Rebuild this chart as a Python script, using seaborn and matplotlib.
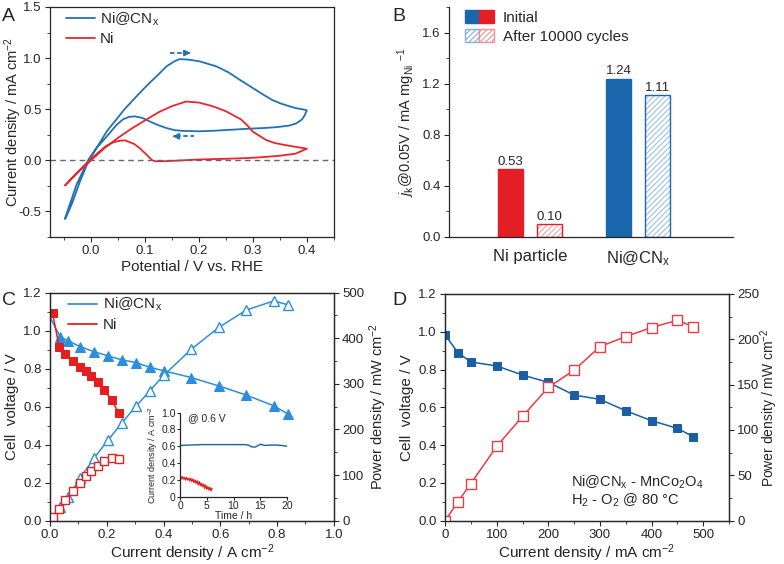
import pandas as pd
import seaborn as sns
import matplotlib.pyplot as plt
from matplotlib.patches import Patch, Rectangle
from matplotlib.lines import Line2D
from matplotlib.legend_handler import HandlerTuple
from matplotlib.ticker import MultipleLocator

# ---- panel A: CV loops (forward sweep then backward sweep)
cv_nicn_v = [-0.048, -0.035, -0.02, -0.005, 0.016, 0.03, 0.047, 0.062, 0.078, 0.094, 0.109, 0.125,
             0.14, 0.155, 0.164, 0.18, 0.2, 0.232, 0.255, 0.275, 0.29, 0.305, 0.32, 0.336, 0.352,
             0.367, 0.38, 0.391, 0.4,
             0.396, 0.391, 0.38, 0.367, 0.345, 0.324, 0.295, 0.262, 0.23, 0.2, 0.17, 0.155, 0.139,
             0.124, 0.109, 0.095, 0.081, 0.07, 0.059, 0.047, 0.035, 0.022, 0.01, -0.005, -0.027, -0.048]
cv_nicn_j = [-0.575, -0.42, -0.2, -0.01, 0.17, 0.29, 0.40, 0.50, 0.59, 0.68, 0.76, 0.84,
             0.92, 0.97, 0.99, 0.985, 0.97, 0.92, 0.86, 0.79, 0.74, 0.69, 0.64, 0.59, 0.555,
             0.53, 0.51, 0.50, 0.49,
             0.44, 0.40, 0.36, 0.34, 0.325, 0.317, 0.31, 0.30, 0.29, 0.284, 0.288, 0.295, 0.317,
             0.345, 0.38, 0.415, 0.43, 0.425, 0.40, 0.345, 0.27, 0.19, 0.12, 0.005, -0.24, -0.565]

cv_ni_v = [-0.048, -0.025, 0.0, 0.025, 0.05, 0.075, 0.1, 0.125, 0.15, 0.176, 0.2, 0.225, 0.25,
           0.278, 0.29, 0.3, 0.312, 0.324, 0.34, 0.355, 0.37, 0.385, 0.4,
           0.39, 0.379, 0.35, 0.32, 0.293, 0.25, 0.2, 0.17, 0.14, 0.121, 0.113, 0.109, 0.1, 0.09,
           0.08, 0.0625, 0.052, 0.041, 0.028, 0.016, -0.002, -0.025, -0.048]
cv_ni_j = [-0.245, -0.12, 0.0, 0.12, 0.22, 0.31, 0.39, 0.47, 0.53, 0.575, 0.565, 0.53, 0.48,
           0.40, 0.34, 0.28, 0.24, 0.20, 0.17, 0.154, 0.14, 0.127, 0.114,
           0.09, 0.065, 0.045, 0.032, 0.023, 0.015, 0.008, 0.0, -0.008, -0.01, 0.0, 0.023, 0.07,
           0.12, 0.16, 0.196, 0.19, 0.176, 0.14, 0.088, 0.006, -0.12, -0.245]

# ---- panel B: mass activity
materials = ['Ni particle', 'Ni@CNx', 'Ni particle', 'Ni@CNx']
states = ['Initial', 'Initial', 'After 10000 cycles', 'After 10000 cycles']
activity = [0.53, 1.24, 0.10, 1.11]

# ---- panel C: polarisation / power curves
c_nicn_i = [0.0, 0.036, 0.065, 0.106, 0.156, 0.205, 0.254, 0.303, 0.352, 0.401,
            0.498, 0.595, 0.692, 0.789, 0.840]
c_nicn_v = [1.07, 0.968, 0.946, 0.916, 0.889, 0.867, 0.846, 0.832, 0.807, 0.789,
            0.753, 0.709, 0.661, 0.604, 0.560]
c_nicn_p = [0, 30, 53, 93, 138, 177, 215, 251, 285, 319, 376, 424, 462, 482, 473]

c_ni_i = [0.009, 0.032, 0.053, 0.080, 0.106, 0.126, 0.144, 0.168, 0.190, 0.217, 0.243]
c_ni_v = [1.092, 0.916, 0.877, 0.840, 0.811, 0.788, 0.763, 0.732, 0.688, 0.635, 0.565]
c_ni_p = [9, 26, 45, 65, 83, 97, 108, 121, 130, 137, 135]

# inset: stability at 0.6 V
ins_blue_t = [0, 2, 4, 6, 8, 10, 12, 12.8, 13.3, 14, 14.5, 15, 15.5, 16, 17, 18, 19, 20]
ins_blue_j = [0.61, 0.615, 0.62, 0.62, 0.62, 0.62, 0.62, 0.615, 0.595, 0.59, 0.605, 0.625,
              0.615, 0.61, 0.615, 0.615, 0.61, 0.60]
ins_red_t = [0.0, 0.2, 0.4, 0.6, 0.8, 1.0, 1.2, 1.4, 1.6, 1.8, 2.0, 2.2, 2.4, 2.6, 2.8, 3.0,
             3.2, 3.4, 3.6, 3.8, 4.0, 4.2, 4.4, 4.6, 4.8, 5.0, 5.2, 5.4, 5.6, 5.8, 6.0]
ins_red_j = [0.24, 0.21, 0.24, 0.21, 0.23, 0.20, 0.23, 0.20, 0.22, 0.19, 0.22, 0.18, 0.21,
             0.17, 0.20, 0.16, 0.19, 0.14, 0.18, 0.13, 0.16, 0.12, 0.15, 0.10, 0.14, 0.09,
             0.12, 0.08, 0.11, 0.07, 0.10]

# ---- panel D: Ni@CNx - MnCo2O4 cell
d_i = [0, 25, 50, 100, 150, 200, 250, 300, 350, 400, 450, 480]
d_v = [0.983, 0.889, 0.840, 0.819, 0.771, 0.732, 0.665, 0.642, 0.582, 0.529, 0.489, 0.445]
d_p = [0, 21, 41, 82, 115, 147, 166, 192, 203, 213, 221, 214]

BLUE_A, RED_A = '#2171b5', '#e8262b'
BLUE_B, RED_B = '#1a66ad', '#e31e24'
BLUE_C, RED_C = '#2d8fdc', '#e3201f'
BLUE_D, RED_D = '#1a5ea6', '#ee3b42'

sns.set_style('ticks')
plt.rcParams['font.family'] = ['Liberation Sans', 'DejaVu Sans']
plt.rcParams['mathtext.fontset'] = 'custom'
plt.rcParams['mathtext.rm'] = 'Liberation Sans'
plt.rcParams['mathtext.it'] = 'Liberation Sans:italic'
plt.rcParams['mathtext.default'] = 'regular'
plt.rcParams['axes.unicode_minus'] = False
plt.rcParams['axes.linewidth'] = 0.9
plt.rcParams['hatch.linewidth'] = 0.8
plt.rcParams['xtick.major.size'] = 3.5
plt.rcParams['ytick.major.size'] = 3.5
plt.rcParams['xtick.minor.size'] = 2
plt.rcParams['ytick.minor.size'] = 2
plt.rcParams['xtick.major.pad'] = 2.5
plt.rcParams['ytick.major.pad'] = 2.5
plt.rcParams['xtick.minor.visible'] = True
plt.rcParams['ytick.minor.visible'] = True

TICK = 9.5
LAB = 10.5

fig = plt.figure(figsize=(7.84, 5.64), dpi=100)
axA = fig.add_axes([0.0638, 0.5798, 0.362, 0.4078])
axB = fig.add_axes([0.5727, 0.5798, 0.3622, 0.4078])
axC = fig.add_axes([0.0638, 0.0768, 0.362, 0.4043])
axD = fig.add_axes([0.5677, 0.0768, 0.3622, 0.4020])

# ================= A
sns.lineplot(x=cv_nicn_v, y=cv_nicn_j, sort=False, estimator=None, color=BLUE_A, lw=1.3,
             label='Ni@CN$_x$', ax=axA)
sns.lineplot(x=cv_ni_v, y=cv_ni_j, sort=False, estimator=None, color=RED_A, lw=1.3,
             label='Ni', ax=axA)
axA.axhline(0, color='#666666', ls='--', lw=1.0, dashes=(4, 3))
axA.set_xlim(-0.076, 0.45)
axA.set_ylim(-0.75, 1.5)
axA.xaxis.set_major_locator(MultipleLocator(0.1))
axA.xaxis.set_minor_locator(MultipleLocator(0.05))
axA.yaxis.set_major_locator(MultipleLocator(0.5))
axA.yaxis.set_minor_locator(MultipleLocator(0.25))
axA.tick_params(labelsize=TICK)
axA.set_xticks([0, 0.1, 0.2, 0.3, 0.4])
axA.set_xticklabels(['0.0', '0.1', '0.2', '0.3', '0.4'])
axA.set_xlabel('Potential / V vs. RHE', fontsize=11, labelpad=2)
axA.set_ylabel('Current density / mA cm$^{-2}$', fontsize=LAB)
axA.yaxis.set_label_coords(-0.09, 0.5)
axA.legend(loc='upper left', bbox_to_anchor=(0.055, 0.985), frameon=False, fontsize=11,
           handlelength=1.9, handletextpad=0.35, labelspacing=0.3, borderaxespad=0, borderpad=0)
# sweep direction arrows
axA.plot([0.146, 0.178], [1.05, 1.05], color=BLUE_A, ls='--', lw=1.3, dashes=(2.5, 1.5))
axA.annotate('', xy=(0.19, 1.05), xytext=(0.176, 1.05),
             arrowprops=dict(arrowstyle='-|>', color=BLUE_A, lw=1.2, mutation_scale=9))
axA.plot([0.158, 0.19], [0.235, 0.235], color=BLUE_A, ls='--', lw=1.3, dashes=(2.5, 1.5))
axA.annotate('', xy=(0.146, 0.235), xytext=(0.16, 0.235),
             arrowprops=dict(arrowstyle='-|>', color=BLUE_A, lw=1.2, mutation_scale=9))

# ================= B
dfB = pd.DataFrame({'material': materials, 'state': states, 'value': activity})
sns.barplot(data=dfB, x='material', y='value', hue='state', order=['Ni particle', 'Ni@CNx'],
            hue_order=['Initial', 'After 10000 cycles'], width=0.72, gap=0.345,
            legend=False, ax=axB)
for cont, hatched in zip(axB.containers, [False, True]):
    for bar in cont:
        cx = bar.get_x() + bar.get_width() / 2
        base = BLUE_B if cx > 0.5 else RED_B
        if hatched:
            light = '#9cc3e6' if cx > 0.5 else '#f3a3a5'
            bar.set_facecolor('white')
            bar.set_edgecolor(light)
            bar.set_hatch('//////')
            bar.set_linewidth(0)
            axB.add_patch(Rectangle(bar.get_xy(), bar.get_width(), bar.get_height(),
                                    fill=False, edgecolor=base, lw=1.0))
        else:
            bar.set_facecolor(base)
            bar.set_edgecolor(base)
    axB.bar_label(cont, fmt='%.2f', fontsize=9.5, padding=1)
axB.set_xlim(-0.75, 1.88)
axB.set_ylim(0, 1.8)
axB.yaxis.set_major_locator(MultipleLocator(0.4))
axB.yaxis.set_minor_locator(MultipleLocator(0.2))
axB.set_yticks([0, 0.4, 0.8, 1.2, 1.6])
axB.tick_params(axis='x', which='both', length=0, labelsize=12, pad=9)
axB.tick_params(axis='y', labelsize=TICK)
axB.set_xticks([0, 1])
axB.set_xticklabels(['Ni particle', 'Ni@CN$_x$'])
axB.set_xlabel('')
axB.set_ylabel('$\\mathit{j}_k$@0.05V / mA mg$_{Ni}$ $^{-1}$', fontsize=LAB, labelpad=4)
sns.despine(ax=axB)
hB = [(Patch(facecolor=BLUE_B, edgecolor=BLUE_B), Patch(facecolor=RED_B, edgecolor=RED_B)),
      (Patch(facecolor='white', edgecolor='#7fb0dd', hatch='//////'),
       Patch(facecolor='white', edgecolor='#f08f92', hatch='//////'))]
axB.legend(hB, ['Initial', 'After 10000 cycles'], handler_map={tuple: HandlerTuple(ndivide=None, pad=0)},
           loc='upper left', bbox_to_anchor=(0.055, 0.985), frameon=False, fontsize=11,
           handlelength=1.9, handleheight=0.85, handletextpad=0.6, labelspacing=0.3,
           borderaxespad=0, borderpad=0)

# ================= C
axC2 = axC.twinx()
sns.lineplot(x=c_nicn_i, y=c_nicn_v, color=BLUE_C, lw=1.1, marker='^', ms=7.5, mec=BLUE_C,
             markevery=slice(1, None), ax=axC)
sns.lineplot(x=c_ni_i, y=c_ni_v, color=RED_C, lw=1.1, marker='s', ms=6, mec=RED_C, ax=axC)
sns.lineplot(x=c_nicn_i, y=c_nicn_p, color=BLUE_C, lw=1.1, marker='^', ms=7.5, mec=BLUE_C,
             mfc='white', mew=1.0, markevery=slice(1, None), ax=axC2)
sns.lineplot(x=c_ni_i, y=c_ni_p, color=RED_C, lw=1.1, marker='s', ms=6, mec=RED_C,
             mfc='white', mew=1.0, ax=axC2)
axC.set_xlim(0, 1.0)
axC.set_ylim(0, 1.2)
axC2.set_ylim(0, 500)
axC.xaxis.set_major_locator(MultipleLocator(0.2))
axC.xaxis.set_minor_locator(MultipleLocator(0.1))
axC.yaxis.set_major_locator(MultipleLocator(0.2))
axC.yaxis.set_minor_locator(MultipleLocator(0.1))
axC2.yaxis.set_major_locator(MultipleLocator(100))
axC2.yaxis.set_minor_locator(MultipleLocator(50))
axC.tick_params(labelsize=TICK)
axC2.tick_params(labelsize=TICK)
axC.set_xlabel('Current density / A cm$^{-2}$', fontsize=11, labelpad=1)
axC.set_ylabel('Cell  voltage / V', fontsize=11, labelpad=3)
axC2.set_ylabel('Power density / mW cm$^{-2}$', fontsize=LAB, labelpad=2)
hC = [Line2D([], [], color=BLUE_C, lw=1.3), Line2D([], [], color=RED_C, lw=1.3)]
axC.legend(hC, ['Ni@CN$_x$', 'Ni'], loc='upper left', bbox_to_anchor=(0.065, 0.985),
           frameon=False, fontsize=11, handlelength=1.9, handletextpad=0.35,
           labelspacing=0.3, borderaxespad=0, borderpad=0)

axI = fig.add_axes([0.2296, 0.1193, 0.1365, 0.149])
sns.lineplot(x=ins_blue_t, y=ins_blue_j, color=BLUE_D, lw=1.0, ax=axI)
sns.lineplot(x=ins_red_t, y=ins_red_j, color=RED_C, lw=1.0, ax=axI)
axI.set_xlim(0, 20)
axI.set_ylim(0, 1.0)
axI.xaxis.set_major_locator(MultipleLocator(5))
axI.yaxis.set_major_locator(MultipleLocator(0.2))
axI.minorticks_off()
axI.tick_params(labelsize=7.5, length=2, pad=1)
axI.set_yticks([0, 0.2, 0.4, 0.6, 0.8, 1.0])
axI.set_yticklabels(['0', '0.2', '0.4', '0.6', '0.8', '1.0'])
axI.set_xlabel('Time / h', fontsize=7.5, labelpad=0)
axI.set_ylabel('Current density / A cm$^{-2}$', fontsize=6.5, labelpad=1)
axI.text(1.5, 0.93, '@ 0.6 V', fontsize=7.5, va='center')
axI.patch.set_alpha(0)
sns.despine(ax=axI)

# ================= D
axD2 = axD.twinx()
sns.lineplot(x=d_i, y=d_v, color=BLUE_D, lw=1.1, marker='s', ms=6, mec=BLUE_D, ax=axD)
sns.lineplot(x=d_i, y=d_p, color=RED_D, lw=1.1, marker='s', ms=6.5, mec=RED_D,
             mfc='white', mew=1.0, ax=axD2)
axD.set_xlim(0, 550)
axD.set_ylim(0, 1.2)
axD2.set_ylim(0, 250)
axD.xaxis.set_major_locator(MultipleLocator(100))
axD.xaxis.set_minor_locator(MultipleLocator(50))
axD.yaxis.set_major_locator(MultipleLocator(0.2))
axD.yaxis.set_minor_locator(MultipleLocator(0.1))
axD2.yaxis.set_major_locator(MultipleLocator(50))
axD2.yaxis.set_minor_locator(MultipleLocator(25))
axD.tick_params(labelsize=TICK)
axD2.tick_params(labelsize=TICK)
axD.set_xlabel('Current density / mA cm$^{-2}$', fontsize=11, labelpad=1)
axD.set_ylabel('Cell  voltage / V', fontsize=11, labelpad=3)
axD2.set_ylabel('Power density / mW cm$^{-2}$', fontsize=10)
axD2.yaxis.set_label_coords(1.105, 0.5)
axD.text(243, 0.205, 'Ni@CN$_x$ - MnCo$_2$O$_4$', fontsize=10.5, va='center')
axD.text(243, 0.11, 'H$_2$ - O$_2$ @ 80 °C', fontsize=10.5, va='center')

# panel letters
for lab, x, y in [('A', 0.002, 0.985), ('B', 0.500, 0.985), ('C', 0.002, 0.483), ('D', 0.500, 0.483)]:
    fig.text(x, y, lab, fontsize=14, va='top', ha='left')

fig.savefig('out.png', dpi=100)
